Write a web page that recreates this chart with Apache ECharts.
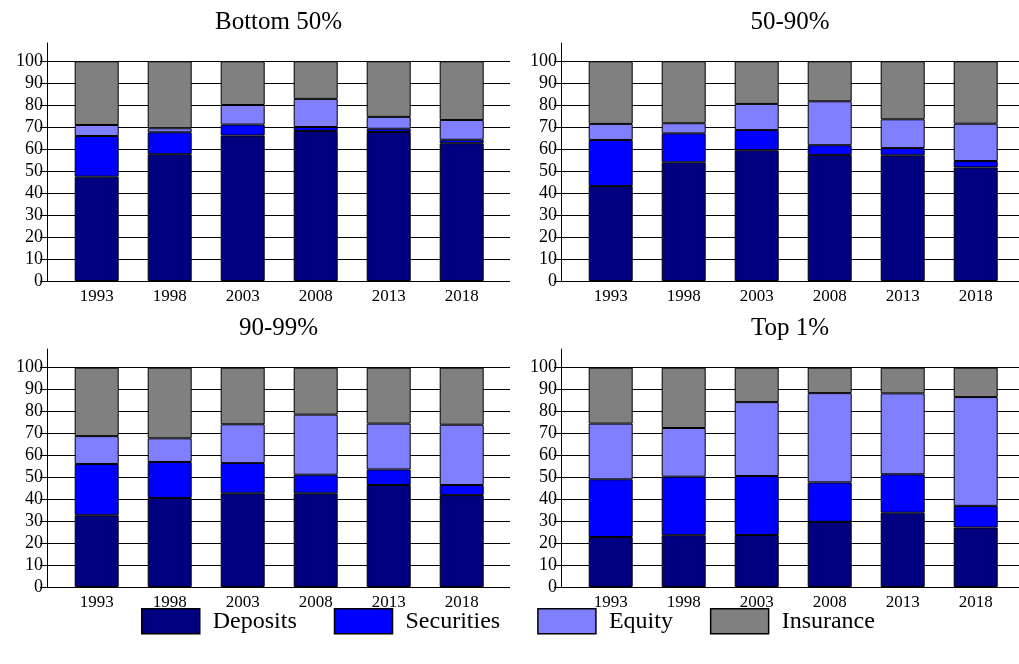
<!DOCTYPE html>
<html>
<head>
<meta charset="utf-8">
<style>html,body{margin:0;padding:0;background:#fff}#c{width:1019px;height:664px}</style>
<script src="https://cdn.jsdelivr.net/npm/echarts@6/dist/echarts.min.js"></script>
</head>
<body>
<div id="c"></div>
<script>
const years = ['1993', '1998', '2003', '2008', '2013', '2018'];
const seriesNames = ['Deposits', 'Securities', 'Equity', 'Insurance'];
const panelTitles = ['Bottom 50%', '50-90%', '90-99%', 'Top 1%'];
const yTicks = [0, 100, 10]; // min, max, interval

// Bottom 50%
const b50Deposits   = [47.5, 57.7, 66.2, 68.3, 67.8, 62.7];
const b50Securities = [18.5, 10.0, 5.0, 1.8, 1.5, 1.6];
const b50Equity     = [5.0, 1.8, 8.9, 12.8, 5.4, 9.0];
const b50Insurance  = [29.0, 30.5, 19.9, 17.1, 25.3, 26.7];
// 50-90%
const m40Deposits   = [43.2, 54.0, 59.5, 57.4, 57.2, 51.7];
const m40Securities = [21.0, 13.2, 9.2, 4.4, 3.3, 2.9];
const m40Equity     = [7.3, 4.6, 11.9, 20.0, 13.1, 17.0];
const m40Insurance  = [28.5, 28.2, 19.4, 18.2, 26.4, 28.4];
// 90-99%
const n9Deposits    = [32.7, 40.6, 42.7, 42.7, 46.5, 41.9];
const n9Securities  = [23.4, 16.4, 13.8, 8.5, 7.1, 4.6];
const n9Equity      = [12.7, 10.8, 17.7, 27.4, 20.9, 27.5];
const n9Insurance   = [31.2, 32.2, 25.8, 21.4, 25.5, 26.0];
// Top 1%
const t1Deposits    = [22.8, 23.6, 23.7, 29.7, 33.9, 27.1];
const t1Securities  = [26.3, 26.7, 26.9, 18.0, 17.5, 9.9];
const t1Equity      = [25.4, 22.2, 33.7, 40.7, 36.9, 49.6];
const t1Insurance   = [25.5, 27.5, 15.7, 11.6, 11.7, 13.4];

const panelData = [
  [b50Deposits, b50Securities, b50Equity, b50Insurance],
  [m40Deposits, m40Securities, m40Equity, m40Insurance],
  [n9Deposits, n9Securities, n9Equity, n9Insurance],
  [t1Deposits, t1Securities, t1Equity, t1Insurance]
];
const colors = ['#000080', '#0000ff', '#8080ff', '#808080'];

// layout (px)
const panels = [
  {x0: 47, x1: 510, y100: 61.3, y0: 281, axisTop: 43, titleY: 22},
  {x0: 561, x1: 1019, y100: 61.3, y0: 281, axisTop: 43, titleY: 22},
  {x0: 47, x1: 510, y100: 367.7, y0: 587, axisTop: 349, titleY: 328},
  {x0: 561, x1: 1019, y100: 367.7, y0: 587, axisTop: 349, titleY: 328}
];
const FONT = 'Liberation Serif';
const catW = 73, barOffset = 13.2;

const grid = [], xAxis = [], yAxis = [], series = [], graphic = [];
panels.forEach((p, i) => {
  // line-only grid (tall y axis line)
  let gi = grid.length;
  grid.push({left: p.x0, top: p.axisTop, width: p.x1 - p.x0, height: p.y0 - p.axisTop});
  xAxis.push({gridIndex: gi, type: 'category', data: years, show: false});
  yAxis.push({gridIndex: gi, type: 'value', min: 0, max: 1,
    axisLine: {show: true, lineStyle: {color: '#000', width: 1}},
    axisTick: {show: false}, axisLabel: {show: false}, splitLine: {show: false}});
  // gridlines + labels grid
  gi = grid.length;
  grid.push({left: p.x0, top: p.y100, width: p.x1 - p.x0, height: p.y0 - p.y100});
  xAxis.push({gridIndex: gi, type: 'category', data: years, show: false});
  yAxis.push({gridIndex: gi, type: 'value', min: yTicks[0], max: yTicks[1], interval: yTicks[2],
    axisLine: {show: true, lineStyle: {color: '#000', width: 1}},
    axisTick: {show: true, length: 7, lineStyle: {color: '#000', width: 1}},
    axisLabel: {color: '#000', fontFamily: FONT, fontSize: 18, margin: 4},
    splitLine: {show: true, lineStyle: {color: '#000', width: 1}}});
  // bars grid
  gi = grid.length;
  grid.push({left: p.x0 + barOffset, top: p.y100, width: catW * years.length, height: p.y0 - p.y100});
  const xi = xAxis.length;
  xAxis.push({gridIndex: gi, type: 'category', data: years,
    axisLine: {show: false}, axisTick: {show: false},
    axisLabel: {color: '#000', fontFamily: FONT, fontSize: 17, margin: 7}});
  const yi = yAxis.length;
  yAxis.push({gridIndex: gi, type: 'value', min: 0, max: 100, show: false});
  panelData[i].forEach((vals, s) => {
    series.push({
      type: 'bar', name: seriesNames[s], stack: 'p' + i,
      xAxisIndex: xi, yAxisIndex: yi, data: vals,
      barWidth: 44,
      itemStyle: {color: colors[s], borderColor: '#000', borderWidth: 1},
      emphasis: {disabled: true}, animation: false
    });
  });
  graphic.push({type: 'text', x: (p.x0 + p.x1) / 2, y: p.titleY,
    style: {text: panelTitles[i], font: '25px "Liberation Serif"', fill: '#000',
      textAlign: 'center', textVerticalAlign: 'middle', align: 'center', verticalAlign: 'middle'}});
});

const chart = echarts.init(document.getElementById('c'));
chart.setOption({
  animation: false,
  backgroundColor: '#fff',
  grid, xAxis, yAxis, series, graphic,
  legend: {
    data: seriesNames, left: 141, top: 608, padding: 0,
    itemWidth: 58, itemHeight: 25, itemGap: 37,
    icon: 'rect',
    itemStyle: {borderColor: '#000', borderWidth: 1.5},
    textStyle: {color: '#000', fontFamily: FONT, fontSize: 24, padding: [0, 0, 0, 8]},
    selectedMode: false
  }
});
</script>
</body>
</html>
